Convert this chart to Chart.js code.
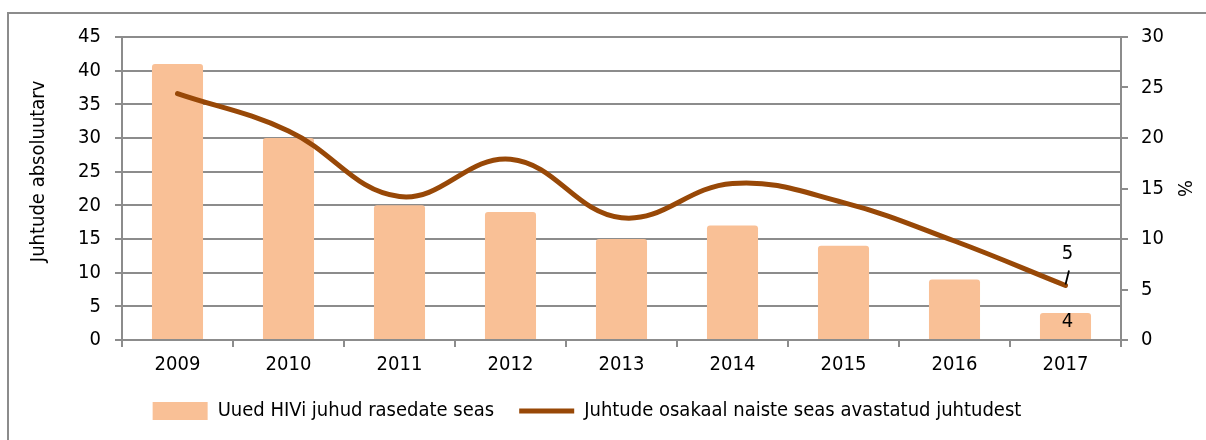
<!DOCTYPE html>
<html>
<head>
<meta charset="utf-8">
<script src="https://cdn.jsdelivr.net/npm/chart.js@4.4.0/dist/chart.umd.min.js"></script>
<style>
  body { margin: 0; background: #fff; }
  #frame { position: absolute; left: 7px; top: 12px; width: 1230px; height: 460px; border: 2px solid #8c8c8c; }
  #wrap { position: absolute; left: 0; top: 0; width: 1206px; height: 440px; }
</style>
</head>
<body>
<div id="frame"></div>
<div id="wrap"><canvas id="myChart" width="1206" height="440"></canvas></div>
<script>
const years = ["2009", "2010", "2011", "2012", "2013", "2014", "2015", "2016", "2017"];
// uued juhud (left axis)
const newCases = [41, 30, 20, 19, 15, 17, 14, 9, 4];
// osakaal, % (right axis)
const sharePct = [24.4, 20.7, 14.2, 17.9, 12.1, 15.5, 13.6, 9.8, 5.4];
const leftTicks = [0, 5, 10, 15, 20, 25, 30, 35, 40, 45];
const rightTicks = [0, 5, 10, 15, 20, 25, 30];
const seriesNames = ["Uued HIVi juhud rasedate seas", "Juhtude osakaal naiste seas avastatud juhtudest"];

const barColor = "#f9c096";
const lineColor = "#984807";
const gridColor = "#8c8c8c";
const fontFam = "'DejaVu Sans Condensed', 'DejaVu Sans', sans-serif";
const tickFont = { family: fontFam, size: 20 };

// labels for the last year only
const dataLabels = {
  id: "dataLabels",
  afterDatasetsDraw(chart) {
    const ctx = chart.ctx;
    const last = years.length - 1;
    const bar = chart.getDatasetMeta(0).data[last];
    const pt = chart.getDatasetMeta(1).data[last];
    ctx.save();
    ctx.fillStyle = "#000";
    ctx.font = "20px " + fontFam;
    ctx.textAlign = "center";
    ctx.textBaseline = "middle";
    ctx.fillText(String(Math.round(newCases[last])), bar.x + 2, bar.y + 9);
    ctx.fillText(String(Math.round(sharePct[last])), pt.x + 2, pt.y - 32);
    ctx.strokeStyle = "#000";
    ctx.lineWidth = 1.8;
    ctx.beginPath();
    ctx.moveTo(pt.x + 3.5, pt.y - 15);
    ctx.lineTo(pt.x, pt.y - 1);
    ctx.stroke();
    ctx.restore();
  }
};

// move legend a bit to the left like in the original
const legendShift = {
  id: "legendShift",
  afterLayout(chart) {
    chart.legend.left -= 16;
    chart.legend.right -= 16;
  }
};

new Chart("myChart", {
  type: "bar",
  data: {
    labels: years,
    datasets: [
      {
        label: seriesNames[0],
        data: newCases,
        backgroundColor: barColor,
        borderRadius: 3,
        barPercentage: 0.46,
        categoryPercentage: 1,
        yAxisID: "y",
        order: 2,
      },
      {
        type: "line",
        label: seriesNames[1],
        data: sharePct,
        borderColor: lineColor,
        backgroundColor: lineColor,
        borderWidth: 5,
        borderCapStyle: "round",
        pointRadius: 0,
        tension: 0.4,
        yAxisID: "y1",
        order: 1,
      },
    ],
  },
  options: {
    responsive: false,
    animation: false,
    layout: { padding: { top: 37, left: 0, right: 0, bottom: 9 } },
    plugins: {
      tooltip: { enabled: false },
      legend: {
        position: "bottom",
        labels: {
          usePointStyle: true,
          pointStyleWidth: 55,
          boxHeight: 18,
          padding: 25,
          color: "#000",
          font: tickFont,
          generateLabels: () => [
            { text: seriesNames[0], fillStyle: barColor, strokeStyle: barColor, lineWidth: 0, pointStyle: "rect", datasetIndex: 0 },
            { text: seriesNames[1], fillStyle: lineColor, strokeStyle: lineColor, lineWidth: 5, pointStyle: "line", datasetIndex: 1 },
          ],
        },
      },
    },
    scales: {
      x: {
        offset: true,
        grid: { offset: true, drawOnChartArea: false, drawTicks: true, tickLength: 7, color: gridColor, lineWidth: 2 },
        border: { color: gridColor, width: 2 },
        ticks: { color: "#000", font: tickFont, padding: 5.5 },
        afterFit(s) { s.height = 36; },
      },
      y: {
        position: "left",
        min: 0,
        max: 45,
        afterBuildTicks(s) { s.ticks = leftTicks.map(v => ({ value: v })); },
        grid: { color: gridColor, lineWidth: 2, tickLength: 7 },
        border: { color: gridColor, width: 2 },
        ticks: { color: "#000", font: tickFont, padding: 14 },
        // leading spaces lift the title a little, as in the original
        title: { display: true, text: "\u00a0\u00a0\u00a0\u00a0\u00a0\u00a0Juhtude absoluutarv", color: "#000", font: tickFont, padding: { top: 27, bottom: 0 } },
        afterFit(s) { s.width = 122; },
      },
      y1: {
        position: "right",
        min: 0,
        max: 30,
        afterBuildTicks(s) { s.ticks = rightTicks.map(v => ({ value: v })); },
        grid: { drawOnChartArea: false, color: gridColor, lineWidth: 2, tickLength: 7 },
        border: { color: gridColor, width: 2 },
        ticks: { color: "#000", font: tickFont, padding: 13 },
        title: { display: true, text: "%", color: "#000", font: tickFont, padding: { top: 11, bottom: 0 } },
        afterFit(s) { s.width = 85; },
      },
    },
  },
  plugins: [dataLabels, legendShift],
});
</script>
</body>
</html>
